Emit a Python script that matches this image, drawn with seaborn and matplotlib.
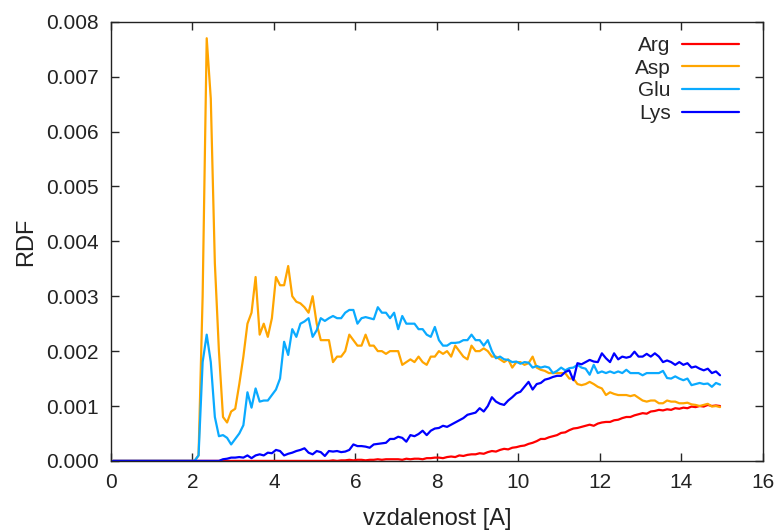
import matplotlib
matplotlib.use("Agg")
import matplotlib.pyplot as plt
import seaborn as sns
import numpy as np
import pandas as pd

# vzdalenost (stred binu), krok 0.1
r = np.round(np.arange(150) * 0.1 + 0.05, 2)

arg = [0.0] * 50 + [
    0, 0, 0, 0, 0.00001, 0, 0.00001, 0.00001, 0.00002, 0.00001,
    0.00002, 0.00002, 0.00001, 0.00002, 0.00002, 0.00003, 0.00002, 0.00003, 0.00003, 0.00003,
    0.00003, 0.00002, 0.00004, 0.00003, 0.00004, 0.00004, 0.00003, 0.00005, 0.00005, 0.00006,
    0.00006, 0.00005, 0.00007, 0.00008, 0.00007, 0.0001, 0.00009, 0.00011, 0.00012, 0.00012,
    0.00014, 0.00013, 0.00016, 0.00018, 0.00017, 0.0002, 0.00022, 0.00021, 0.00024, 0.00025,
    0.00027, 0.00028, 0.00031, 0.00033, 0.00036, 0.0004, 0.0004, 0.00043, 0.00045, 0.00047,
    0.00051, 0.00052, 0.00056, 0.00059, 0.0006, 0.00062, 0.00064, 0.00066, 0.00064, 0.00068,
    0.0007, 0.00071, 0.00071, 0.00074, 0.00075, 0.00078, 0.0008, 0.0008, 0.00083, 0.00085,
    0.00087, 0.00086, 0.0009, 0.00091, 0.00093, 0.00092, 0.00094, 0.00093, 0.00096, 0.00095,
    0.00097, 0.00096, 0.00099, 0.00098, 0.001, 0.00099, 0.00102, 0.001, 0.00101, 0.001,
]

asp = [0.0] * 20 + [
    0, 0.0001, 0.0030, 0.0077, 0.0066, 0.0036, 0.0020, 0.0008, 0.0007, 0.0009,
    0.00095, 0.0014, 0.0019, 0.0025, 0.0027, 0.00335, 0.0023, 0.0025, 0.00226, 0.0026,
    0.00335, 0.0032, 0.0032, 0.00355, 0.0030, 0.0029, 0.00287, 0.0028, 0.0027, 0.0030,
    0.0025, 0.0022, 0.0022, 0.0022, 0.0018, 0.0019, 0.0019, 0.0020, 0.0023, 0.0022,
    0.0021, 0.0021, 0.0023, 0.0021, 0.0021, 0.0020, 0.0020, 0.00195, 0.0020, 0.0020,
    0.0020, 0.00175, 0.0018, 0.00185, 0.0018, 0.0019, 0.0018, 0.00175, 0.0019, 0.0019,
    0.0020, 0.00195, 0.0020, 0.0019, 0.0021, 0.0020, 0.0019, 0.00185, 0.0021, 0.0020,
    0.0020, 0.00205, 0.0020, 0.0019, 0.0019, 0.00185, 0.0018, 0.00185, 0.0017, 0.0018,
    0.0018, 0.00175, 0.00178, 0.0019, 0.0017, 0.00166, 0.00164, 0.0016, 0.0016, 0.0016,
    0.0016, 0.0016, 0.0015, 0.0015, 0.0014, 0.00138, 0.0014, 0.00144, 0.0014, 0.00135,
    0.00132, 0.0012, 0.00125, 0.00122, 0.0012, 0.0012, 0.0012, 0.00118, 0.0012, 0.00115,
    0.0011, 0.00108, 0.0011, 0.0011, 0.00105, 0.00105, 0.0011, 0.00108, 0.00108, 0.00105,
    0.00105, 0.00106, 0.00103, 0.00102, 0.0010, 0.00102, 0.00104, 0.00099, 0.0010, 0.00098,
]

glu = [0.0] * 20 + [
    0, 0.0001, 0.0018, 0.0023, 0.0018, 0.0008, 0.00045, 0.00047, 0.00042, 0.0003,
    0.0004, 0.0005, 0.00065, 0.00125, 0.00097, 0.00132, 0.00108, 0.0011, 0.0011, 0.0012,
    0.0013, 0.0015, 0.00217, 0.00193, 0.0024, 0.00226, 0.0025, 0.00254, 0.0026, 0.00226,
    0.00238, 0.0026, 0.00255, 0.0026, 0.00264, 0.0026, 0.0026, 0.0027, 0.00275, 0.00275,
    0.0025, 0.0026, 0.00262, 0.0026, 0.00258, 0.0028, 0.0027, 0.0027, 0.0026, 0.0027,
    0.0024, 0.00264, 0.0025, 0.0025, 0.0025, 0.0024, 0.0024, 0.0023, 0.00226, 0.00244,
    0.0022, 0.0021, 0.0021, 0.00215, 0.00215, 0.00216, 0.0022, 0.0022, 0.0023, 0.0022,
    0.0022, 0.0021, 0.0022, 0.0020, 0.00187, 0.0019, 0.00185, 0.00184, 0.0018, 0.00181,
    0.00177, 0.0018, 0.00179, 0.0017, 0.00173, 0.0017, 0.00172, 0.0017, 0.0016, 0.00164,
    0.0017, 0.00165, 0.00169, 0.0017, 0.00175, 0.0017, 0.00168, 0.00157, 0.00175, 0.0016,
    0.00163, 0.0016, 0.00163, 0.0016, 0.00163, 0.0016, 0.00166, 0.0016, 0.0016, 0.0016,
    0.00156, 0.0016, 0.0016, 0.0016, 0.0016, 0.00164, 0.00151, 0.0015, 0.00154, 0.0015,
    0.00147, 0.0015, 0.00138, 0.0014, 0.00142, 0.0014, 0.00141, 0.00135, 0.00142, 0.00139,
]

lys = [0.0] * 27 + [
    0.00003, 0.00004, 0.00006,
    0.00006, 0.00007, 0.00006, 0.0001, 0.00005, 0.0001, 0.00012, 0.0001, 0.00015, 0.00014,
    0.0002, 0.00018, 0.0001, 0.00013, 0.00015, 0.00018, 0.0002, 0.00023, 0.00015, 0.00012,
    0.00018, 0.00016, 0.00009, 0.00018, 0.00017, 0.00018, 0.00016, 0.00017, 0.0002, 0.0003,
    0.00027, 0.00027, 0.00026, 0.00024, 0.0003, 0.00031, 0.00032, 0.00033, 0.0004, 0.0004,
    0.00044, 0.00042, 0.00035, 0.00047, 0.00045, 0.00049, 0.00055, 0.00047, 0.00055, 0.00059,
    0.0006, 0.00064, 0.00062, 0.00066, 0.0007, 0.00074, 0.00078, 0.00084, 0.00086, 0.00088,
    0.00096, 0.0009, 0.0010, 0.00116, 0.00108, 0.00104, 0.00102, 0.0011, 0.00116, 0.00123,
    0.00126, 0.00135, 0.00144, 0.0013, 0.0014, 0.00142, 0.00148, 0.0015, 0.00153, 0.00155,
    0.00155, 0.00162, 0.00165, 0.00147, 0.00178, 0.00176, 0.0018, 0.00184, 0.00181, 0.0018,
    0.00196, 0.00187, 0.0018, 0.00196, 0.00185, 0.0019, 0.00188, 0.0019, 0.00199, 0.0019,
    0.0019, 0.00195, 0.0019, 0.00196, 0.0019, 0.0018, 0.00183, 0.0018, 0.00175, 0.0018,
    0.00175, 0.00178, 0.0017, 0.00172, 0.00168, 0.00165, 0.00168, 0.0016, 0.00163, 0.00156,
]

names = ["Arg", "Asp", "Glu", "Lys"]
colors = ["#ff0000", "#ffa500", "#0aaaff", "#0000ff"]

df = pd.DataFrame({"r": r, "Arg": arg, "Asp": asp, "Glu": glu, "Lys": lys})
long_df = df.melt(id_vars="r", var_name="aa", value_name="RDF")

sns.set_style("ticks")
plt.rcParams["font.family"] = ["Liberation Sans", "DejaVu Sans"]

fig = plt.figure(figsize=(7.76, 5.31), dpi=100)
ax = fig.add_axes([0.143, 0.132, 0.840, 0.827])

sns.lineplot(data=long_df, x="r", y="RDF", hue="aa", hue_order=names,
             palette=colors, linewidth=1.6, ax=ax)

ax.set_xlim(0, 16)
ax.set_ylim(0, 0.008)
ax.set_xticks(np.arange(0, 17, 2))
ax.set_yticks(np.arange(0, 0.0081, 0.001))
ax.yaxis.set_major_formatter(matplotlib.ticker.FormatStrFormatter("%.3f"))
ax.tick_params(direction="in", length=6, width=1, top=True, right=True,
               labelsize=15, labelcolor="#222222", pad=8.6)
for s in ax.spines.values():
    s.set_visible(True)
    s.set_linewidth(1)
    s.set_color("#222222")

ax.set_xlabel("vzdalenost [A]", fontsize=17, color="#222222")
ax.set_ylabel("RDF", fontsize=17, color="#222222")
ax.xaxis.set_label_coords(0.5, -0.108)
ax.yaxis.set_label_coords(-0.114, 0.5)

ax.legend(loc="upper right", bbox_to_anchor=(0.963, 0.968), frameon=False,
          markerfirst=False, fontsize=15, handlelength=2.7, handletextpad=0.56,
          labelspacing=0.18, borderaxespad=0, borderpad=0, title=None)

fig.savefig("out.png", dpi=100)
